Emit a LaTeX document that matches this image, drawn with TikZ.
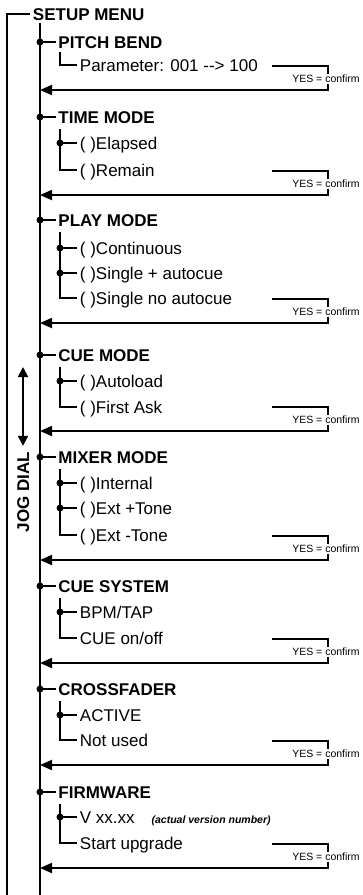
\documentclass[tikz,border=0pt]{standalone}
\usepackage{fontspec}
\setmainfont{Liberation Sans}
\usetikzlibrary{arrows.meta,positioning}

\begin{document}
\begin{tikzpicture}[x=1pt, y=-1pt, line width=1.9pt,
  menu/.style={anchor=west, inner xsep=2pt, inner ysep=0pt, text height=12pt, text depth=0pt, font=\fontsize{17}{20}\selectfont\bfseries},
  entry/.style={menu, font=\fontsize{17}{20}\selectfont},
  yes/.style={fill=white, inner sep=1.5pt, font=\fontsize{10.5}{12}\selectfont},
  knot/.style={circle, fill, inner sep=0pt, minimum size=7pt},
  back/.style={-{Triangle[length=12pt,width=10pt]}},
  dial/.style={{Triangle[length=10pt,width=10pt]}-{Triangle[length=10pt,width=10pt]}}
]
\useasboundingbox (0,0) rectangle (363,895);

% frame and spine
\node[menu] (top) at (30,14) {SETUP MENU};
\coordinate (foot) at (7,895);
\coordinate (spine) at (40,895);
\draw (foot) |- (top.west);
\draw ([xshift=10pt,yshift=-9pt]top.west) -- (spine);

% jog dial
\node[menu, anchor=center, rotate=90, inner xsep=0pt] (jog) at (23,492) {JOG DIAL};
\coordinate (dialtop) at (23,367);
\draw[dial] (dialtop) -- ([yshift=5pt]jog.east);

% menu titles
\foreach \y/\name [count=\i] in {42/PITCH BEND, 117/TIME MODE, 220/PLAY MODE, 355/CUE MODE,
    457/MIXER MODE, 586/CUE SYSTEM, 689/CROSSFADER, 792/FIRMWARE}{
  \node[knot] (k\i) at (40,\y) {};
  \node[menu] (t\i) at (55.5,\y) {\name};
  \draw (k\i.center) -- (t\i.west);
}

% pitch bend
\node[entry] (e11) at (77,65) {Parameter: 001 -\kern0pt-> 100};
\draw ([xshift=4.5pt,yshift=-10pt]t1.west) |- (e11.west);

% time mode
\node[entry] (e21) at (77,143) {( )Elapsed};
\node[entry] (e22) at (77,170) {( )Remain};
\node[knot] (d21) at (60,143) {};
\draw ([xshift=4.5pt,yshift=-12pt]t2.west) |- (e22.west);
\draw (d21.center) -- (e21.west);

% play mode
\node[entry] (e31) at (77,248) {( )Continuous};
\node[entry] (e32) at (77,273) {( )Single + autocue};
\node[entry] (e33) at (77,298) {( )Single no autocue};
\node[knot] (d31) at (60,248) {};
\node[knot] (d32) at (60,273) {};
\draw ([xshift=4.5pt,yshift=-12pt]t3.west) |- (e33.west);
\draw (d31.center) -- (e31.west);
\draw (d32.center) -- (e32.west);

% cue mode
\node[entry] (e41) at (77,381) {( )Autoload};
\node[entry] (e42) at (77,407) {( )First Ask};
\node[knot] (d41) at (60,381) {};
\draw ([xshift=4.5pt,yshift=-12pt]t4.west) |- (e42.west);
\draw (d41.center) -- (e41.west);

% mixer mode
\node[entry] (e51) at (77,483) {( )Internal};
\node[entry] (e52) at (77,508) {( )Ext +Tone};
\node[entry] (e53) at (77,535) {( )Ext -Tone};
\node[knot] (d51) at (60,483) {};
\node[knot] (d52) at (60,508) {};
\draw ([xshift=4.5pt,yshift=-12pt]t5.west) |- (e53.west);
\draw (d51.center) -- (e51.west);
\draw (d52.center) -- (e52.west);

% cue system
\node[entry] (e61) at (77,612) {BPM/TAP};
\node[entry] (e62) at (77,638) {CUE on/off};
\node[knot] (d61) at (60,612) {};
\draw ([xshift=4.5pt,yshift=-12pt]t6.west) |- (e62.west);
\draw (d61.center) -- (e61.west);

% crossfader
\node[entry] (e71) at (77,715) {ACTIVE};
\node[entry] (e72) at (77,740) {Not used};
\node[knot] (d71) at (60,715) {};
\draw ([xshift=4.5pt,yshift=-12pt]t7.west) |- (e72.west);
\draw (d71.center) -- (e71.west);

% firmware
\node[entry] (e81) at (77,817) {V xx.xx};
\node[entry] (e82) at (77,843) {Start upgrade};
\node[knot] (d81) at (60,817) {};
\node[anchor=base west, inner sep=0pt, font=\fontsize{10.5}{12}\selectfont\bfseries\itshape] (note)
  at ([xshift=13pt]e81.base east) {(actual version number)};
\draw ([xshift=4.5pt,yshift=-12pt]t8.west) |- (e82.west);
\draw (d81.center) -- (e81.west);

% confirm brackets and return arrows
\foreach \a [count=\i] in {90,195,323,431,560,663,765,868}{
  \coordinate (b\i) at (40,\a);
  \draw[back] (272,\a-24) -| (328,\a) -- (b\i);
  \node[yes] (y\i) at (326,\a-11) {YES = confirm};
}
\end{tikzpicture}
\end{document}
